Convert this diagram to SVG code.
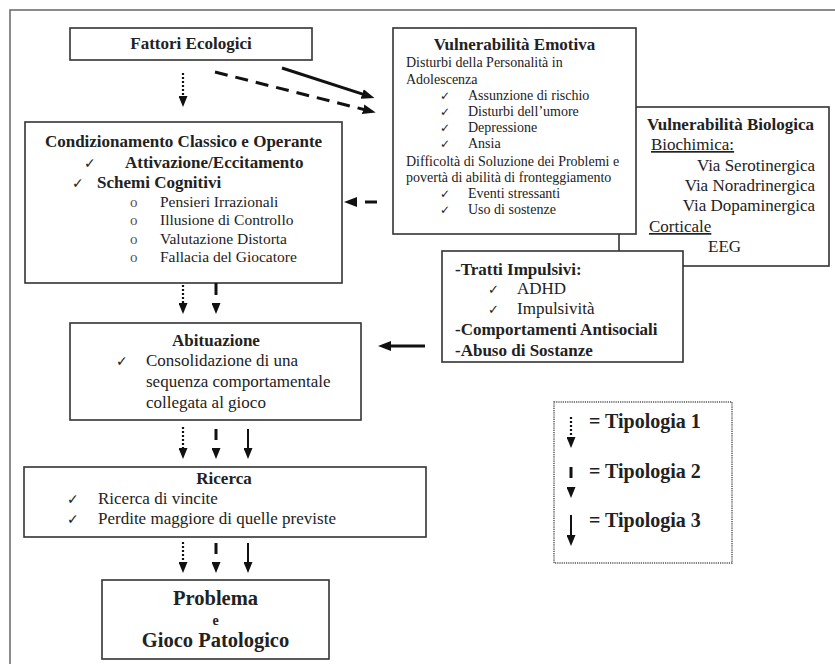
<svg xmlns="http://www.w3.org/2000/svg" width="835" height="664" viewBox="0 0 835 664">
<style>
.box{fill:#fff;stroke:#333;stroke-width:1.6}
.t{font-family:"Liberation Serif","Times New Roman",serif;fill:#222}
.b{font-weight:bold}
.s17{font-size:17px}
.s14{font-size:14px}
.ck{font-family:"DejaVu Sans",sans-serif;fill:#222}
.bu{font-family:"Liberation Serif",serif;font-size:15px;fill:#555}
.a1{stroke:#111;stroke-width:2.2;stroke-dasharray:2 2;fill:none}
.a2{stroke:#111;stroke-width:3;fill:none}
.a3{stroke:#111;stroke-width:2;fill:none}
.u{text-decoration:underline}
</style>
<defs>
<marker id="ah" markerUnits="userSpaceOnUse" markerWidth="11" markerHeight="9" refX="2" refY="4.5" orient="auto">
<path d="M0,0 L11,4.5 L0,9 z" fill="#111"/>
</marker>
<marker id="ahL" markerUnits="userSpaceOnUse" markerWidth="13" markerHeight="10" refX="3" refY="5" orient="auto">
<path d="M0,0 L13,5 L0,10 z" fill="#111"/>
</marker>
</defs>
<rect x="10" y="10" width="900" height="700" fill="none" stroke="#666" stroke-width="1.5"/>

<g id="biologica">
<rect class="box" x="619" y="107" width="210" height="159"/>
<text class="t b s17" x="647" y="130">Vulnerabilità Biologica</text>
<text class="t s17 u" x="651" y="150">Biochimica:</text>
<text class="t s17" x="815" y="171" text-anchor="end">Via Serotinergica</text>
<text class="t s17" x="815" y="191" text-anchor="end">Via Noradrinergica</text>
<text class="t s17" x="815" y="211" text-anchor="end">Via Dopaminergica</text>
<text class="t s17 u" x="649" y="232">Corticale</text>
<text class="t s17" x="708" y="252">EEG</text>
</g>

<g id="fattori">
<rect class="box" x="70" y="28" width="242" height="32"/>
<text class="t b s17" x="191" y="49" text-anchor="middle">Fattori Ecologici</text>
</g>

<g id="emotiva">
<rect class="box" x="393" y="28" width="243" height="206"/>
<text class="t b s17" x="514.5" y="50" text-anchor="middle">Vulnerabilità Emotiva</text>
<text class="t s14" x="406" y="67">Disturbi della Personalità in</text>
<text class="t s14" x="406" y="84">Adolescenza</text>
<text class="ck" font-size="12" x="440" y="100">✓</text><text class="t s14" x="468" y="100">Assunzione di rischio</text>
<text class="ck" font-size="12" x="440" y="116">✓</text><text class="t s14" x="468" y="116">Disturbi dell’umore</text>
<text class="ck" font-size="12" x="440" y="132">✓</text><text class="t s14" x="468" y="132">Depressione</text>
<text class="ck" font-size="12" x="440" y="148">✓</text><text class="t s14" x="468" y="148">Ansia</text>
<text class="t s14" x="406" y="166">Difficoltà di Soluzione dei Problemi e</text>
<text class="t s14" x="406" y="182">povertà di abilità di fronteggiamento</text>
<text class="ck" font-size="12" x="440" y="198">✓</text><text class="t s14" x="468" y="198">Eventi stressanti</text>
<text class="ck" font-size="12" x="440" y="214">✓</text><text class="t s14" x="468" y="214">Uso di sostenze</text>
</g>

<g id="tratti">
<rect class="box" x="442" y="251" width="241" height="111"/>
<text class="t b s17" x="455" y="275">-Tratti Impulsivi:</text>
<text class="ck" font-size="13" x="488" y="294">✓</text><text class="t s17" x="517" y="294">ADHD</text>
<text class="ck" font-size="13" x="488" y="314">✓</text><text class="t s17" x="517" y="314">Impulsività</text>
<text class="t b s17" x="455" y="335">-Comportamenti Antisociali</text>
<text class="t b s17" x="455" y="356">-Abuso di Sostanze</text>
</g>

<g id="condizionamento">
<rect class="box" x="25" y="122" width="317" height="161"/>
<text class="t b s17" x="183.5" y="147" text-anchor="middle">Condizionamento Classico e Operante</text>
<text class="ck" font-size="14" x="84" y="168">✓</text><text class="t b s17" x="125" y="168">Attivazione/Eccitamento</text>
<text class="ck" font-size="14" x="72" y="188">✓</text><text class="t b s17" x="97" y="188">Schemi Cognitivi</text>
<text class="bu" x="130" y="207">o</text><text class="t" font-size="15.5" x="160" y="207">Pensieri Irrazionali</text>
<text class="bu" x="130" y="225">o</text><text class="t" font-size="15.5" x="160" y="225">Illusione di Controllo</text>
<text class="bu" x="130" y="244">o</text><text class="t" font-size="15.5" x="160" y="244">Valutazione Distorta</text>
<text class="bu" x="130" y="262">o</text><text class="t" font-size="15.5" x="160" y="262">Fallacia del Giocatore</text>
</g>

<g id="abituazione">
<rect class="box" x="70" y="323" width="291" height="97"/>
<text class="t b s17" x="216" y="346" text-anchor="middle">Abituazione</text>
<text class="ck" font-size="14" x="116" y="366">✓</text>
<text class="t s17" x="146" y="366">Consolidazione di una</text>
<text class="t s17" x="146" y="387">sequenza comportamentale</text>
<text class="t s17" x="146" y="408">collegata al gioco</text>
</g>

<g id="ricerca">
<rect class="box" x="24" y="467" width="402" height="70"/>
<text class="t b s17" x="224" y="484" text-anchor="middle">Ricerca</text>
<text class="ck" font-size="14" x="67" y="504">✓</text><text class="t s17" x="98" y="504">Ricerca di vincite</text>
<text class="ck" font-size="14" x="67" y="524">✓</text><text class="t s17" x="98" y="524">Perdite maggiore di quelle previste</text>
</g>

<g id="problema">
<rect class="box" x="102" y="580" width="227" height="79"/>
<text class="t b" font-size="20.5" x="215.5" y="605" text-anchor="middle">Problema</text>
<text class="t b" font-size="14" x="215.5" y="625" text-anchor="middle">e</text>
<text class="t b" font-size="20.5" x="215.5" y="647" text-anchor="middle">Gioco Patologico</text>
</g>

<g id="legenda">
<rect x="554" y="402" width="178" height="161" fill="none" stroke="#555" stroke-width="1.5" stroke-dasharray="1.2 1"/>
<line class="a1" x1="571" y1="417" x2="571" y2="439" marker-end="url(#ah)"/>
<text class="t b" font-size="20" x="589" y="428">= Tipologia 1</text>
<line class="a2" x1="571" y1="467" x2="571" y2="489" stroke-dasharray="11 40" marker-end="url(#ah)"/>
<text class="t b" font-size="20" x="589" y="478">= Tipologia 2</text>
<line class="a3" x1="571" y1="515" x2="571" y2="537" marker-end="url(#ah)"/>
<text class="t b" font-size="20" x="589" y="527">= Tipologia 3</text>
</g>

<g id="connectors">
<line class="a1" x1="183" y1="73" x2="183" y2="98" marker-end="url(#ah)"/>
<line x1="215" y1="72" x2="366" y2="110" stroke="#111" stroke-width="3" stroke-dasharray="13 8" marker-end="url(#ahL)"/>
<line x1="282" y1="68" x2="365" y2="94.9" stroke="#111" stroke-width="3" marker-end="url(#ahL)"/>
<line x1="377" y1="202" x2="354" y2="202" stroke="#111" stroke-width="3" stroke-dasharray="12 40" marker-end="url(#ahL)"/>
<line x1="425" y1="346" x2="388" y2="346" stroke="#111" stroke-width="3" marker-end="url(#ahL)"/>

<line class="a1" x1="183" y1="285" x2="183" y2="305" marker-end="url(#ah)"/>
<line class="a2" x1="216" y1="283" x2="216" y2="305" stroke-dasharray="12 40" marker-end="url(#ah)"/>

<line class="a1" x1="183" y1="427" x2="183" y2="450" marker-end="url(#ah)"/>
<line class="a2" x1="216" y1="429" x2="216" y2="450" stroke-dasharray="11 40" marker-end="url(#ah)"/>
<line class="a3" x1="248" y1="429" x2="248" y2="450" marker-end="url(#ah)"/>

<line class="a1" x1="183" y1="542" x2="183" y2="564" marker-end="url(#ah)"/>
<line class="a2" x1="216" y1="543" x2="216" y2="564" stroke-dasharray="11 40" marker-end="url(#ah)"/>
<line class="a3" x1="248" y1="543" x2="248" y2="564" marker-end="url(#ah)"/>
</g>
</svg>
